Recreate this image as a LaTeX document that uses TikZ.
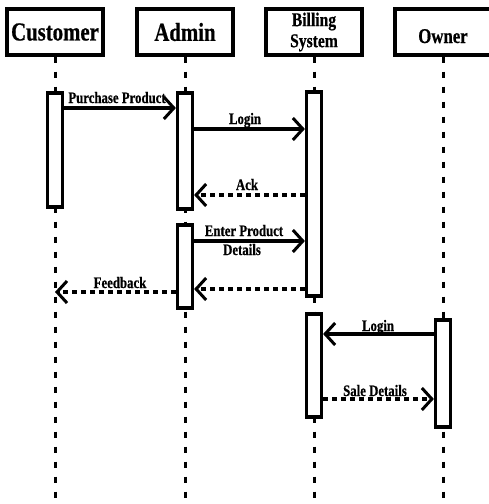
\documentclass[tikz,border=0pt]{standalone}
\usepackage{fontspec}
\newfontfamily\diagfont[FakeStretch=0.8,BoldFeatures={FakeBold=0.6}]{Liberation Serif}
\usetikzlibrary{arrows.meta}
\begin{document}
\begin{tikzpicture}[x=1pt,y=-1pt,
  actor/.style={draw, line width=3.4pt, minimum width=96pt, minimum height=46pt,
                inner sep=0pt, align=center},
  bar/.style={draw, fill=white, line width=3.2pt, minimum width=15pt, inner sep=0pt},
  lifeline/.style={line width=3pt, dash pattern=on 6pt off 9pt},
  msg/.style={line width=3.2pt, -{Straight Barb[length=10pt,width=22pt,line width=3pt]}},
  reply/.style={msg, dash pattern=on 5pt off 4pt},
  lbl/.style={anchor=base, inner sep=0pt, font=\diagfont\bfseries\fontsize{16}{16}\selectfont}
]
\useasboundingbox (0,0) rectangle (488,504);
\coordinate (bottom) at (0,504);

% participants
\node[actor, font=\diagfont\bfseries\fontsize{26}{26}\selectfont] (cust) at (55,32) {Customer};
\node[actor, font=\diagfont\bfseries\fontsize{26}{26}\selectfont] (admin) at (185,32) {Admin};
\node[actor, font=\diagfont\bfseries\fontsize{19.5}{21}\selectfont] (bill) at (314,32) {Billing\\System};
\node[actor, font=\diagfont\bfseries\fontsize{21}{21}\selectfont, text height=22pt, text depth=0pt] (owner) at (443,32) {Owner};

% lifelines
\foreach \p in {cust,admin,bill,owner}
  \draw[lifeline] (\p.south) -- (\p.south |- bottom);

% activation bars
\node[bar, minimum height=114pt] (c1) at (55,150) {};
\node[bar, minimum height=116pt] (a1) at (185,151) {};
\node[bar, minimum height=204pt] (b1) at (314,194) {};
\node[bar, minimum height=83pt]  (a2) at (185,266.5) {};
\node[bar, minimum height=103pt] (b2) at (314,365.5) {};
\node[bar, minimum height=107pt] (o1) at (443,373.5) {};

% message levels
\coordinate (y1) at (0,108);
\coordinate (y2) at (0,129);
\coordinate (y3) at (0,195);
\coordinate (y4) at (0,241);
\coordinate (y5) at (0,289);
\coordinate (y6) at (0,292);
\coordinate (y7) at (0,334);
\coordinate (y8) at (0,399);

% messages
\draw[msg]   (c1.east |- y1) -- (a1.west |- y1);
\draw[msg]   (a1.east |- y2) -- (b1.west |- y2);
\draw[reply] (b1.west |- y3) -- (a1.east |- y3);
\draw[msg]   (a2.east |- y4) -- (b1.west |- y4);
\draw[reply] (b1.west |- y5) -- (a2.east |- y5);
\draw[reply] (a2.west |- y6) -- (cust |- y6);
\draw[msg]   (o1.west |- y7) -- (b2.east |- y7);
\draw[reply] (b2.east |- y8) -- (o1.west |- y8);

% message labels
\node[lbl] (l1) at (117,103) {Purchase Product};
\node[lbl] (l2) at (245,124) {Login};
\node[lbl] (l3) at (247,190) {Ack};
\node[lbl] (l4) at (244,236) {Enter Product};
\node[lbl] (l5) at (242,255) {Details};
\node[lbl] (l6) at (120,288) {Feedback};
\node[lbl] (l7) at (378,331) {Login};
\node[lbl] (l8) at (375,396) {Sale Details};
\end{tikzpicture}
\end{document}
